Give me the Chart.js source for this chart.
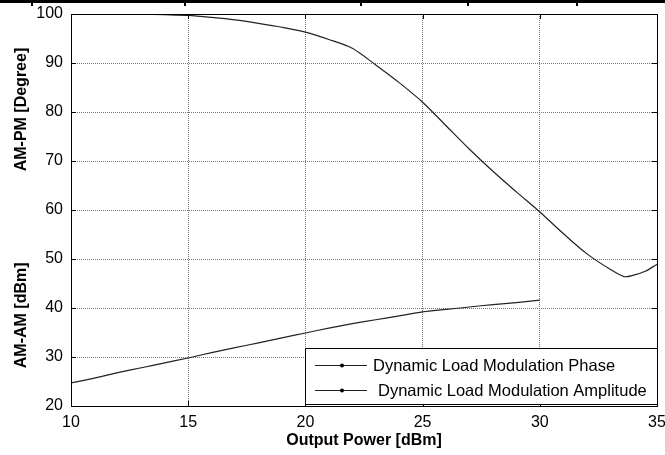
<!DOCTYPE html>
<html lang="en">
<head>
    <meta charset="UTF-8">
    <title>AM-AM / AM-PM vs Output Power</title>
    <script src="https://cdn.jsdelivr.net/npm/chart.js"></script>
    <style>
        body {
            margin: 0;
            background: white;
            font-family: 'Liberation Sans', Arial, sans-serif;
        }
        .wrap {
            position: relative;
            width: 665px;
            height: 455px;
        }
        .topRule {
            position: absolute;
            left: 0;
            top: 0;
            width: 665px;
            height: 3px;
            background: #000;
        }
        .topRule span {
            position: absolute;
            top: 3px;
            width: 2px;
            height: 3px;
            background: #000;
        }
    </style>
</head>
<body>
<div class="wrap">
    <div class="topRule">
        <span style="left:31px"></span>
        <span style="left:184px"></span>
        <span style="left:360px"></span>
        <span style="left:467px"></span>
        <span style="left:576px"></span>
    </div>
    <canvas id="amChart" width="665" height="455"></canvas>
</div>

<script>
    // AM-PM curve (phase, degrees)
    const phaseX = [12, 13, 14, 15, 16, 17, 18, 19, 20, 21, 22, 23, 24, 25, 26, 27, 28, 29, 30, 31, 32, 33, 33.6, 34, 34.5, 35];
    const phaseY = [100, 99.95, 99.85, 99.7, 99.3, 98.8, 98.1, 97.3, 96.3, 94.8, 93.0, 89.6, 86.0, 82.0, 77.2, 72.4, 67.9, 63.7, 59.6, 55.2, 51.1, 47.9, 46.4, 46.7, 47.5, 48.9];

    // AM-AM curve (amplitude, dBm)
    const ampX = [10, 11, 12, 13, 14, 15, 16, 17, 18, 19, 20, 21, 22, 23, 24, 25, 26, 27, 28, 29, 30];
    const ampY = [24.7, 25.7, 26.8, 27.8, 28.8, 29.8, 30.9, 31.9, 32.9, 33.9, 34.9, 35.9, 36.8, 37.6, 38.4, 39.2, 39.7, 40.2, 40.7, 41.1, 41.6];

    const seriesNames = ["Dynamic Load Modulation Phase", "Dynamic Load Modulation Amplitude"];
    const xTicks = [10, 15, 20, 25, 30, 35];
    const yTicks = [20, 30, 40, 50, 60, 70, 80, 90, 100];

    const FONT = "'Liberation Sans', Arial, sans-serif";

    function toPoints(xs, ys) {
        return xs.map((x, i) => ({ x: x, y: ys[i] }));
    }

    // box around the axes, inward ticks, axis titles and the legend
    const decorations = {
        id: "decorations",
        afterDraw(chart) {
            const ctx = chart.ctx;
            const a = chart.chartArea;
            const xs = chart.scales.x;
            const ys = chart.scales.y;
            ctx.save();

            ctx.strokeStyle = "#000";
            ctx.lineWidth = 1;
            ctx.setLineDash([]);
            ctx.strokeRect(a.left + 0.5, a.top + 0.5, a.right - a.left, a.bottom - a.top);

            // inward tick marks
            ctx.beginPath();
            xTicks.forEach(v => {
                const px = Math.round(xs.getPixelForValue(v)) + 0.5;
                ctx.moveTo(px, a.bottom); ctx.lineTo(px, a.bottom - 5);
                ctx.moveTo(px, a.top); ctx.lineTo(px, a.top + 5);
            });
            yTicks.forEach(v => {
                const py = Math.round(ys.getPixelForValue(v)) + 0.5;
                ctx.moveTo(a.left, py); ctx.lineTo(a.left + 5, py);
                ctx.moveTo(a.right, py); ctx.lineTo(a.right - 5, py);
            });
            ctx.stroke();

            // axis titles
            ctx.fillStyle = "#000";
            ctx.font = "bold 16px " + FONT;
            ctx.textAlign = "center";
            ctx.textBaseline = "middle";
            ctx.fillText("Output Power [dBm]", (a.left + a.right) / 2, 441);

            ctx.save();
            ctx.translate(22, ys.getPixelForValue(80.5));
            ctx.rotate(-Math.PI / 2);
            ctx.fillText("AM-PM [Degree]", 0, 0);
            ctx.restore();

            ctx.save();
            ctx.translate(22, ys.getPixelForValue(38.5));
            ctx.rotate(-Math.PI / 2);
            ctx.fillText("AM-AM [dBm]", 0, 0);
            ctx.restore();

            // legend box in the lower right corner
            const bw = 352, bh = 56;
            const bx = a.right - bw, by = a.bottom - bh - 2;
            ctx.fillStyle = "#fff";
            ctx.fillRect(bx, by, bw, bh);
            ctx.strokeStyle = "#000";
            ctx.strokeRect(bx + 0.5, by + 0.5, bw, bh);

            ctx.font = "16.5px " + FONT;
            ctx.textAlign = "left";
            const rows = [by + 17, by + 42];
            const textOffsets = [68, 73];
            chart.data.datasets.forEach((ds, i) => {
                const y = rows[i] + 0.5;
                ctx.strokeStyle = ds.borderColor;
                ctx.lineWidth = 1;
                ctx.beginPath();
                ctx.moveTo(bx + 10, y);
                ctx.lineTo(bx + 62, y);
                ctx.stroke();
                ctx.fillStyle = "#000";
                ctx.beginPath();
                ctx.arc(bx + 37, y, 2, 0, Math.PI * 2);
                ctx.fill();
                ctx.fillText(ds.label, bx + textOffsets[i], rows[i] + 1);
            });

            ctx.restore();
        }
    };

    const ctx = document.getElementById("amChart").getContext("2d");
    new Chart(ctx, {
        type: "line",
        data: {
            datasets: [
                {
                    label: seriesNames[0],
                    data: toPoints(phaseX, phaseY),
                    borderColor: "#222",
                    borderWidth: 1.2,
                    pointRadius: 0,
                    tension: 0.3
                },
                {
                    label: seriesNames[1],
                    data: toPoints(ampX, ampY),
                    borderColor: "#222",
                    borderWidth: 1.2,
                    pointRadius: 0,
                    tension: 0.3
                }
            ]
        },
        options: {
            responsive: false,
            animation: false,
            layout: {
                padding: { left: 0, right: 8, top: 14, bottom: 0 }
            },
            plugins: {
                legend: { display: false },
                tooltip: { enabled: false }
            },
            scales: {
                x: {
                    type: "linear",
                    min: 10,
                    max: 35,
                    afterBuildTicks: s => { s.ticks = xTicks.map(v => ({ value: v })); },
                    afterFit: s => {
                        s.height = 49;
                        s.paddingLeft = 0;
                        s.paddingRight = 0;
                    },
                    grid: { color: "#777", lineWidth: 1, drawTicks: false },
                    border: { display: false, dash: [1, 1] },
                    ticks: {
                        color: "#000",
                        padding: 7,
                        maxRotation: 0,
                        font: { family: FONT, size: 16 }
                    }
                },
                y: {
                    min: 20,
                    max: 100,
                    afterBuildTicks: s => { s.ticks = yTicks.map(v => ({ value: v })); },
                    afterFit: s => {
                        s.width = 71;
                        s.paddingTop = 0;
                        s.paddingBottom = 0;
                    },
                    grid: { color: "#777", lineWidth: 1, drawTicks: false },
                    border: { display: false, dash: [1, 1] },
                    ticks: {
                        color: "#000",
                        padding: 8,
                        font: { family: FONT, size: 16 }
                    }
                }
            }
        },
        plugins: [decorations]
    });
</script>
</body>
</html>
